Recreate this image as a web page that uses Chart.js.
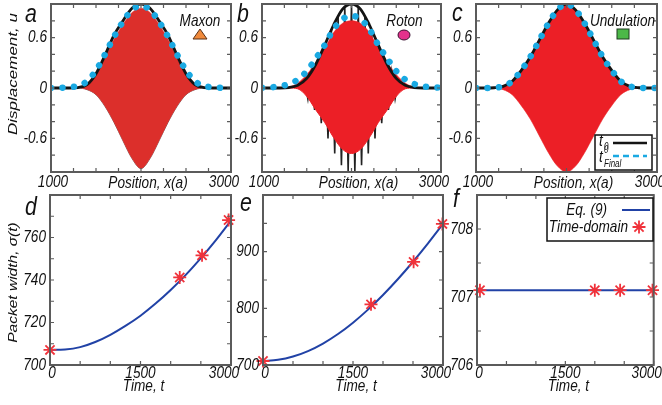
<!DOCTYPE html>
<html>
<head>
<meta charset="utf-8">
<script src="https://cdn.jsdelivr.net/npm/chart.js@4.4.1/dist/chart.umd.min.js"></script>
<style>
  html, body { margin: 0; padding: 0; background: #fff; }
  #wrap { position: relative; width: 662px; height: 405px; overflow: hidden; }
  #wrap canvas { position: absolute; left: 0; top: 0; }
</style>
</head>
<body>
<div id="wrap">
  <canvas id="pa" width="662" height="405"></canvas>
  <canvas id="pb" width="662" height="405"></canvas>
  <canvas id="pc" width="662" height="405"></canvas>
  <canvas id="pd" width="662" height="405"></canvas>
  <canvas id="pe" width="662" height="405"></canvas>
  <canvas id="pf" width="662" height="405"></canvas>
</div>
<script>
// ---- data ----
// position along the chain, x(a)
const position = [1000, 1100, 1200, 1300, 1400, 1500, 1600, 1700, 1800, 1900, 2000,
                  2100, 2200, 2300, 2400, 2500, 2600, 2700, 2800, 2900, 3000];

// a: maxon
const maxonStart = [0, 0, 0, 0.005, 0.04, 0.17, 0.39, 0.63, 0.8, 0.95, 1.0, 0.95, 0.8, 0.63, 0.39, 0.17, 0.04, 0.005, 0, 0, 0];
const maxonFinal = [0, 0.002, 0.008, 0.025, 0.08, 0.21, 0.4, 0.61, 0.79, 0.93, 0.98, 0.93, 0.79, 0.61, 0.4, 0.21, 0.08, 0.025, 0.008, 0.002, 0];
const maxonUpper = [0, 0, 0, 0.005, 0.04, 0.16, 0.36, 0.58, 0.76, 0.9, 0.95, 0.9, 0.76, 0.58, 0.36, 0.16, 0.04, 0.005, 0, 0, 0];
const maxonLower = [0, 0, 0, 0, -0.02, -0.08, -0.22, -0.41, -0.63, -0.84, -0.96, -0.84, -0.63, -0.41, -0.22, -0.08, -0.02, 0, 0, 0, 0];

// b: roton
const rotonStart = [0, 0, 0, 0.005, 0.032, 0.115, 0.28, 0.51, 0.75, 0.94, 1.0, 0.94, 0.75, 0.51, 0.28, 0.115, 0.032, 0.005, 0, 0, 0];
const rotonFinal = [0.003, 0.008, 0.02, 0.048, 0.1, 0.2, 0.35, 0.51, 0.7, 0.82, 0.86, 0.82, 0.7, 0.51, 0.35, 0.2, 0.1, 0.048, 0.02, 0.008, 0.003];
const rotonUpper = [0, 0, 0, 0.01, 0.06, 0.16, 0.3, 0.47, 0.66, 0.77, 0.8, 0.77, 0.66, 0.47, 0.3, 0.16, 0.06, 0.01, 0, 0, 0];
const rotonLower = [0, 0, 0, 0, -0.01, -0.1, -0.26, -0.41, -0.59, -0.73, -0.78, -0.73, -0.59, -0.41, -0.26, -0.1, -0.01, 0, 0, 0, 0];
// initial roton signal peaks poking out of the red packet
const rotonSpikeX = [1475, 1512.5, 1550, 1587.5, 1625, 1662.5, 1700, 1737.5, 1775, 1812.5, 1850, 1887.5, 1925, 1962.5, 2000,
                     2037.5, 2075, 2112.5, 2150, 2187.5, 2225, 2262.5, 2300, 2337.5, 2375, 2412.5, 2450, 2487.5, 2525];
const rotonSpikeU = [0.09, -0.13, 0.19, -0.26, 0.33, -0.42, 0.51, -0.6, 0.7, -0.78, 0.86, -0.92, 0.96, -0.99, 1.0,
                     -0.99, 0.96, -0.92, 0.86, -0.78, 0.7, -0.6, 0.51, -0.42, 0.33, -0.26, 0.19, -0.13, 0.09];

// c: undulation
const undulationStart = [0, 0, 0.003, 0.02, 0.08, 0.21, 0.37, 0.57, 0.77, 0.93, 1.0, 0.93, 0.77, 0.57, 0.37, 0.21, 0.08, 0.02, 0.003, 0, 0];
const undulationFinal = [0, 0, 0.003, 0.02, 0.08, 0.21, 0.37, 0.57, 0.77, 0.93, 1.0, 0.93, 0.77, 0.57, 0.37, 0.21, 0.08, 0.02, 0.003, 0, 0];
const undulationLower = [0, 0, -0.003, -0.02, -0.08, -0.21, -0.37, -0.57, -0.77, -0.93, -1.0, -0.93, -0.77, -0.57, -0.37, -0.21, -0.08, -0.02, -0.003, 0, 0];

// d-f: packet width vs time
const time = [0, 250, 500, 750, 1000, 1250, 1500, 1750, 2000, 2250, 2500, 2750, 3000];
const widthMaxon = [707.1, 707.3, 708.4, 710.8, 714.2, 718.4, 723.2, 728.9, 735.3, 742.4, 750.3, 758.8, 768.0];
const widthRoton = [707.1, 709.1, 714.9, 724.6, 737.9, 754.7, 774.7, 797.7, 823.5, 851.7, 882.2, 914.7, 949.0];
const widthUndulation = [707.1, 707.1, 707.1, 707.1, 707.1, 707.1, 707.1, 707.1, 707.1, 707.1, 707.1, 707.1, 707.1];
const simTimeMaxon = [0, 2150, 2520, 2960];
const simWidthMaxon = [707.1, 741.2, 751.6, 768.2];
const simTimeRoton = [0, 1800, 2510, 2990];
const simWidthRoton = [707.1, 807, 882, 949];
const simTimeUndulation = [50, 2000, 2430, 2980];
const simWidthUndulation = [707.1, 707.1, 707.1, 707.1];

// ticks
const posTicks = [1000, 1250, 1500, 1750, 2000, 2250, 2500, 2750, 3000];
const posLabels = [1000, 3000];
const dispTicks = [-0.8, -0.6, -0.4, -0.2, 0, 0.2, 0.4, 0.6, 0.8];
const dispLabels = [-0.6, 0, 0.6];
const timeTicks = [0, 500, 1000, 1500, 2000, 2500, 3000];
const timeLabels = [0, 1500, 3000];
const dTicks = [700, 710, 720, 730, 740, 750, 760, 770, 780];
const dLabels = [700, 720, 740, 760];
const eTicks = [700, 750, 800, 850, 900, 950, 1000];
const eLabels = [700, 800, 900];
const fTicks = [706, 706.5, 707, 707.5, 708, 708.5];
const fLabels = [706, 707, 708];

// ---- drawing helpers ----
const W = 662, H = 405;
const FONT = "'Liberation Sans', Arial, sans-serif";
const RED = "#ec1f26", BLACK = "#141414", CYAN = "#1aa9e2", BLUE = "#2142a6";

function pts(xs, ys) { return xs.map((x, i) => ({ x: x, y: ys[i] })); }

function txt(ctx, s, x, y, size, align, sx, rot, base) {
  ctx.save();
  ctx.font = "italic " + size + "px " + FONT;
  ctx.textAlign = align || "center";
  ctx.textBaseline = base || "middle";
  ctx.translate(x, y);
  if (rot) ctx.rotate(rot);
  if (rot) ctx.scale(1, sx || 0.8); else ctx.scale(sx || 0.8, 1);
  ctx.fillText(s, 0, 0);
  ctx.restore();
}

const framePlugin = {
  id: "frame",
  afterDatasetsDraw(chart, args, o) {
    const ctx = chart.ctx, a = chart.chartArea;
    const xs = chart.scales.x, ys = chart.scales.y;
    ctx.save();
    ctx.strokeStyle = "#5b5b5b";
    ctx.lineWidth = 1.2;
    ctx.beginPath();
    o.xTicks.forEach(v => {
      const p = xs.getPixelForValue(v);
      ctx.moveTo(p, a.bottom); ctx.lineTo(p, a.bottom - 4);
      ctx.moveTo(p, a.top); ctx.lineTo(p, a.top + 4);
    });
    o.yTicks.forEach(v => {
      const p = ys.getPixelForValue(v);
      ctx.moveTo(a.left, p); ctx.lineTo(a.left + 4, p);
      ctx.moveTo(a.right, p); ctx.lineTo(a.right - 4, p);
    });
    ctx.stroke();
    ctx.lineWidth = 2;
    ctx.strokeRect(a.left, a.top, a.right - a.left, a.bottom - a.top);

    ctx.fillStyle = "#111";
    const n = o.xLabels.length;
    o.xLabels.forEach((v, i) => {
      let p = xs.getPixelForValue(v);
      if (i === 0) p += 2;
      if (i === n - 1) p -= 7;
      txt(ctx, String(v), p, a.bottom + o.xLabelDy, 17, "center");
    });
    o.yLabels.forEach(v => {
      txt(ctx, String(v), a.left - 4, ys.getPixelForValue(v), 17, "right");
    });
    if (o.xTitle) txt(ctx, o.xTitle, (a.left + a.right) / 2 + o.xTitleDx, a.bottom + o.xTitleDy, 17, "center");
    if (o.yTitle) txt(ctx, o.yTitle, o.yTitlePos[0], o.yTitlePos[1], o.yTitleSize, "center", 0.8, -Math.PI / 2);
    txt(ctx, o.letter[0], o.letter[1], o.letter[2], 26, "left", 0.82, 0, "alphabetic");
    if (o.extra) o.extra(ctx, chart);
    ctx.restore();
  }
};

function panel(id, area, xr, yr, datasets, frame) {
  return new Chart(document.getElementById(id), {
    type: "line",
    data: { datasets: datasets },
    options: {
      responsive: false,
      animation: false,
      events: [],
      layout: { padding: { left: area[0], right: W - area[1], top: area[2], bottom: H - area[3] } },
      scales: {
        x: { type: "linear", min: xr[0], max: xr[1], display: false },
        y: { type: "linear", min: yr[0], max: yr[1], display: false }
      },
      elements: {
        point: { radius: 0 },
        line: { cubicInterpolationMode: "monotone", fill: false }
      },
      plugins: { legend: { display: false }, tooltip: { enabled: false }, frame: frame }
    },
    plugins: [framePlugin]
  });
}

function startLine(data) {
  return { data: pts(position, data), borderColor: BLACK, borderWidth: 2.8, order: 2 };
}
function finalDots(data) {
  return { data: pts(position, data), borderColor: CYAN, borderWidth: 6.5, borderDash: [0.01, 11.5],
           borderCapStyle: "round", order: 1 };
}
function packet(upper, lower, color, edge) {
  return [
    { data: pts(position, upper), borderColor: color, borderWidth: 0.5, backgroundColor: color, fill: "+1", order: 3 },
    { data: pts(position, lower), borderColor: edge, borderWidth: 1, order: 4 }
  ];
}

const topFrame = (letter, yTitle, extra) => ({
  xTicks: posTicks, yTicks: dispTicks, xLabels: posLabels, yLabels: dispLabels,
  xLabelDy: 10.5, xTitle: "Position, x(a)", xTitleDx: 7, xTitleDy: 11,
  yTitle: yTitle, yTitlePos: [13.5, 74], yTitleSize: 17, letter: letter, extra: extra
});
const bottomFrame = (letter, yTicks, yLabels, yTitle, extra) => ({
  xTicks: timeTicks, yTicks: yTicks, xLabels: timeLabels, yLabels: yLabels,
  xLabelDy: 8.5, xTitle: "Time, t", xTitleDx: 3, xTitleDy: 21,
  yTitle: yTitle, yTitlePos: [13.5, 282.5], yTitleSize: 15.5, letter: letter, extra: extra
});

function tagText(ctx, s, cx) { txt(ctx, s, cx, 21, 17, "center"); }

// ---- a: maxon ----
panel("pa", [51, 231, 4, 172], [1000, 3000], [-1, 1], [
  finalDots(maxonFinal),
  startLine(maxonStart),
  ...packet(maxonUpper, maxonLower, "#dc2f2b", "rgba(95,45,45,0.75)")
], topFrame(["a", 25, 22], "Displacement, u", ctx => {
  tagText(ctx, "Maxon", 200);
  ctx.beginPath();
  ctx.moveTo(193, 39); ctx.lineTo(207, 39); ctx.lineTo(200, 29); ctx.closePath();
  ctx.fillStyle = "#f08a3c"; ctx.fill();
  ctx.strokeStyle = "#5a3015"; ctx.lineWidth = 1; ctx.stroke();
}));

// ---- b: roton ----
panel("pb", [262, 441, 4, 172], [1000, 3000], [-1, 1], [
  finalDots(rotonFinal),
  startLine(rotonStart),
  ...packet(rotonUpper, rotonLower, RED, RED),
  { data: pts(rotonSpikeX, rotonSpikeU), borderColor: "#222", borderWidth: 1.6,
    cubicInterpolationMode: "default", tension: 0, order: 5 }
], topFrame(["b", 237, 22], null, ctx => {
  tagText(ctx, "Roton", 404.5);
  ctx.beginPath();
  ctx.ellipse(404, 35, 6, 5, 0, 0, Math.PI * 2);
  ctx.fillStyle = "#e4318c"; ctx.fill();
  ctx.strokeStyle = "#3a1030"; ctx.lineWidth = 1; ctx.stroke();
}));

// ---- c: undulation ----
panel("pc", [476, 657, 4, 172], [1000, 3000], [-1, 1], [
  finalDots(undulationFinal),
  startLine(undulationStart),
  ...packet(undulationStart, undulationLower, RED, "rgba(240,110,110,0.9)")
], topFrame(["c", 452, 21], null, ctx => {
  tagText(ctx, "Undulation", 622.5);
  ctx.fillStyle = "#4cb848"; ctx.fillRect(617, 29, 12, 10);
  ctx.strokeStyle = "#1e3a1e"; ctx.lineWidth = 1; ctx.strokeRect(617, 29, 12, 10);
  // legend box
  ctx.fillStyle = "#fff"; ctx.fillRect(595, 135, 57, 35);
  ctx.strokeStyle = "#111"; ctx.lineWidth = 1.5; ctx.strokeRect(595, 135, 57, 35);
  ctx.fillStyle = "#111";
  txt(ctx, "t", 599, 141, 17, "left");
  txt(ctx, "0", 604, 147, 10, "left");
  txt(ctx, "t", 599, 157, 17, "left");
  txt(ctx, "0", 604, 150, 10, "left");
  txt(ctx, "Final", 604, 164, 10, "left");
  ctx.lineWidth = 2.5;
  ctx.strokeStyle = BLACK;
  ctx.beginPath(); ctx.moveTo(613, 143); ctx.lineTo(647, 143); ctx.stroke();
  ctx.strokeStyle = CYAN; ctx.setLineDash([6, 4]);
  ctx.beginPath(); ctx.moveTo(613, 156); ctx.lineTo(647, 156); ctx.stroke();
  ctx.setLineDash([]);
}));

// ---- d, e, f: packet width ----
function widthLine(data) {
  return { data: pts(time, data), borderColor: BLUE, borderWidth: 2, order: 2 };
}
function simStars(ts, ws) {
  return { data: pts(ts, ws), showLine: false, pointStyle: "star", pointRadius: 6.5,
           pointBorderColor: "#f0323a", pointBorderWidth: 1.8, clip: false, order: 1 };
}

panel("pd", [50, 231, 195, 365], [0, 3000], [700, 780], [
  simStars(simTimeMaxon, simWidthMaxon),
  widthLine(widthMaxon)
], bottomFrame(["d", 25, 215], dTicks, dLabels, "Packet width, σ(t)"));

panel("pe", [263, 443, 195, 365], [0, 3000], [700, 1000], [
  simStars(simTimeRoton, simWidthRoton),
  widthLine(widthRoton)
], bottomFrame(["e", 240, 210.5], eTicks, eLabels, null));

panel("pf", [477, 657, 195, 365], [0, 3000], [706, 708.5], [
  simStars(simTimeUndulation, simWidthUndulation),
  widthLine(widthUndulation)
], bottomFrame(["f", 453, 206.5], fTicks, fLabels, null, ctx => {
  ctx.fillStyle = "#fff"; ctx.fillRect(547, 198, 106, 43);
  ctx.strokeStyle = "#111"; ctx.lineWidth = 1.5; ctx.strokeRect(547, 198, 106, 43);
  ctx.fillStyle = "#111";
  txt(ctx, "Eq. (9)", 607, 210, 17, "right");
  txt(ctx, "Time-domain", 628, 227, 17, "right");
  ctx.strokeStyle = BLUE; ctx.lineWidth = 2;
  ctx.beginPath(); ctx.moveTo(622, 210); ctx.lineTo(650, 210); ctx.stroke();
  ctx.strokeStyle = "#f0323a"; ctx.lineWidth = 1.8;
  Chart.helpers.drawPoint(ctx, { pointStyle: "star", radius: 6.5, borderWidth: 1.8, rotation: 0 }, 639, 227);
}));
</script>
</body>
</html>
